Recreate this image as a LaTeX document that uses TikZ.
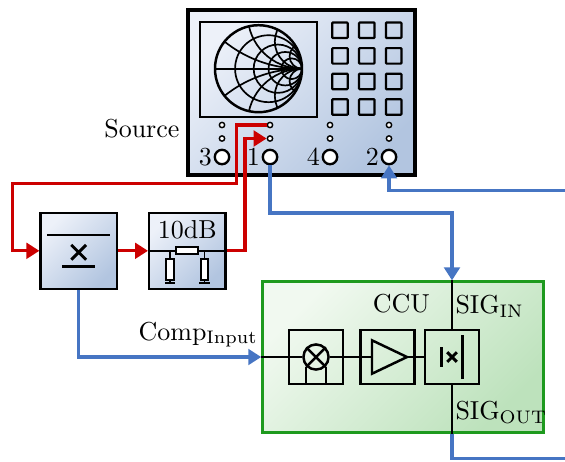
\documentclass[tikz,border=0pt]{standalone}
\usepackage{amsmath}
\usepackage{xcolor}
\usetikzlibrary{arrows.meta}
\definecolor{vna-light}{HTML}{EDF1F9}
\definecolor{vna-dark}{HTML}{B2C5E0}
\definecolor{ccu-light}{HTML}{F1F9F0}
\definecolor{ccu-dark}{HTML}{BDE2BC}
\definecolor{ccu-edge}{HTML}{1E9A1E}
\definecolor{rf-red}{HTML}{CC0000}
\definecolor{rf-blue}{HTML}{4675C3}

\begin{document}
\begin{tikzpicture}[x=1.353mm, y=1.353mm,
    block/.style={draw, line width=0.95pt, top color=vna-light, bottom color=vna-dark,
      shading angle=45, minimum width=10.3mm, minimum height=10.3mm, inner sep=0pt},
    inblock/.style={draw, line width=0.95pt, minimum width=7.3mm, minimum height=7.3mm, inner sep=0pt},
    port/.style={draw, line width=0.9pt, circle, fill=white, minimum size=1.95mm, inner sep=0pt},
    portdot/.style={draw, line width=0.55pt, circle, fill=white, minimum size=0.72mm, inner sep=0pt},
    sigtip/.style={-{Triangle[length=5pt, width=6pt]}},
    redline/.style={line width=1.25pt, rf-red, sigtip},
    blueline/.style={line width=1.25pt, rf-blue},
    smith/.style={line width=0.65pt},
    sigline/.style={line width=0.85pt}]
    \useasboundingbox (0,0) rectangle (56.5,46.1);

    \node[draw, line width=1.5pt, top color=vna-light, bottom color=vna-dark, shading angle=45,
      minimum width=30.6mm, minimum height=22.3mm] (vna) at (30.15,36.83) {};
    \draw[line width=0.85pt] (20.0,43.9) rectangle (31.7,34.4);
    \begin{scope}
      \clip (25.85,39.23) circle (4.35);
      \foreach \r in {0.3,0.8,1.6,3.2}
        \draw[smith] ({25.85+4.35*\r/(1+\r)},39.23) circle ({4.35/(1+\r)});
      \foreach \x in {0.35,0.8,1.6,3.5} {
        \draw[smith] (30.2,{39.23+4.35/\x}) circle ({4.35/\x});
        \draw[smith] (30.2,{39.23-4.35/\x}) circle ({4.35/\x});
      }
      \draw[smith] (21.5,39.23) -- (30.2,39.23);
    \end{scope}
    \draw[line width=0.95pt] (25.85,39.23) circle (4.35);
    \foreach \i in {0,1,2}
      \foreach \j in {0,...,3}
        \draw[line width=0.85pt, rounded corners=0.3pt] ({33.22+2.685*\i},{42.3-2.56*\j}) rectangle ++(1.55,1.55);
    \foreach \n/\x in {3/22.2, 1/27.0, 4/33.0, 2/38.9} {
      \node[portdot] (top\n) at (\x,33.6) {};
      \node[portdot] (bot\n) at (\x,32.25) {};
      \node[port] (p\n) at (\x,30.4) {};
      \node[anchor=east, inner sep=0.5pt] (num\n) at (p\n.west) {\n};
    }
    \node[anchor=east, inner sep=0pt] (src) at (18.0,33.2) {Source};

    \node[block] (cpl) at (7.87,21.02) {};
    \draw[line width=1.1pt] ([shift={(-4.26mm,2.14mm)}]cpl.center) -- ++(8.52mm,0mm);
    \draw[line width=1.1pt] ([shift={(-1mm,-1.2mm)}]cpl.center) -- ++(2mm,2mm)
      ([shift={(-1mm,0.8mm)}]cpl.center) -- ++(2mm,-2mm);
    \draw[line width=1.1pt] ([shift={(-2.2mm,-2.15mm)}]cpl.center) -- ++(4.4mm,0mm);

    \node[block] (att) at (18.73,21.02) {};
    \node[anchor=north] (attlbl) at (att.north) {10dB};
    \draw[line width=0.7pt] (att.west) -- (att.east);
    \draw[line width=0.7pt, fill=white] ([shift={(-1.5mm,-0.47mm)}]att.center) rectangle ++(3mm,0.95mm);
    \foreach \s in {-1,1} {
      \draw[line width=0.7pt] ([xshift=\s*2.33mm]att.center) -- ++(0mm,-1.15mm);
      \draw[line width=0.7pt, fill=white] ([shift={({\s*2.33mm-0.5mm},-1.15mm)}]att.center) rectangle ++(1mm,-2.8mm);
      \draw[line width=0.7pt] ([shift={(\s*2.33mm,-3.95mm)}]att.center) -- ++(0mm,-0.4mm)
        ++(-0.68mm,0mm) -- ++(1.36mm,0mm);
    }

    \node[draw=ccu-edge, line width=0.95pt, top color=ccu-light, bottom color=ccu-dark, shading angle=45,
      minimum width=38mm, minimum height=20.4mm] (ccu) at (40.29,10.4) {};
    \node[inblock] (mix) at (31.6,10.4) {};
    \node[inblock] (amp) at (38.75,10.4) {};
    \node[inblock] (cplr) at (45.2,10.4) {};
    \node[draw, line width=0.95pt, circle, minimum size=3.4mm, inner sep=0pt] (mixc) at (mix) {};
    \draw[line width=0.95pt] (mixc.45) -- (mixc.-135) (mixc.135) -- (mixc.-45);
    \draw[line width=0.95pt] (mixc.-135) -- (mixc.-135 |- mix.south) (mixc.-45) -- (mixc.-45 |- mix.south);
    \draw[line width=0.95pt] ([shift={(-2.1mm,2.26mm)}]amp.center) -- ++(0mm,-4.52mm)
      -- ([xshift=2.64mm]amp.center) -- cycle;
    \draw[line width=1.2pt] ([shift={(-1.42mm,-1.35mm)}]cplr.center) -- ++(0mm,2.7mm);
    \draw[line width=1.2pt] ([shift={(1.46mm,-2.98mm)}]cplr.center) -- ++(0mm,5.96mm);
    \draw[line width=1.1pt] ([shift={(-0.65mm,-0.65mm)}]cplr.center) -- ++(1.3mm,1.3mm)
      ([shift={(-0.65mm,0.65mm)}]cplr.center) -- ++(1.3mm,-1.3mm);
    \coordinate (sigin) at (cplr |- ccu.north);
    \coordinate (sigout) at (cplr |- ccu.south);
    \draw[sigline] (ccu.west) -- (mixc.west) (mixc.east) -- ([xshift=-2.1mm]amp.center)
      ([xshift=2.64mm]amp.center) -- (cplr.west) (sigin) -- (cplr.north) (cplr.south) -- (sigout);
    \node[anchor=base, inner sep=0pt] (ccutxt) at (40.13,14.87) {CCU};
    \node[anchor=base west, inner sep=0pt] (sigintxt) at (45.5,14.77) {SIG$_\mathrm{IN}$};
    \node[anchor=base west, inner sep=0pt] (sigouttxt) at (45.5,4.17) {SIG$_\mathrm{OUT}$};
    \node[anchor=base east, inner sep=0pt] (comptxt) at (25.83,12.1) {Comp$_\mathrm{Input}$};

    \coordinate (redturn) at (23.67,27.75);
    \draw[redline] (top1.west) -| (redturn) -- (1.27,27.75) |- (cpl.west);
    \draw[redline] (cpl.east) -- (att.west);
    \draw[redline] (att.east) -| (24.5,30.0) |- (bot1.west);
    \coordinate (bend1) at (27.0,24.8);
    \draw[blueline, sigtip] (p1.south) -- (bend1) -| (sigin);
    \coordinate (rin) at (56.5,27.05);
    \draw[blueline, sigtip] (rin) -| (p2.south);
    \draw[blueline, sigtip] (cpl.south) |- (ccu.west);
    \coordinate (rout) at (56.5,0.25);
    \draw[blueline] (sigout) |- (rout);
\end{tikzpicture}
\end{document}
